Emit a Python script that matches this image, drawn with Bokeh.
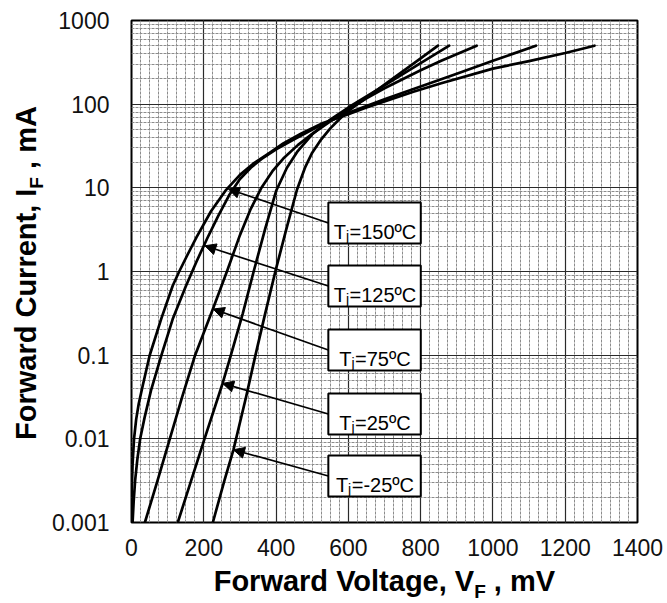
import math
from bokeh.plotting import figure
from bokeh.layouts import row, column
from bokeh.models import (Range1d, FixedTicker, SingleIntervalTicker, CustomJSTickFormatter,
                          Label, BoxAnnotation, Arrow, NormalHead, Div)
from bokeh.embed import file_html
from bokeh.resources import INLINE

# ---------------- data (forward voltage in mV, forward current in mA) ----------------
v_150 = [0, 1, 3, 7, 13, 20, 31, 50, 82, 114, 132, 155, 180, 220, 260, 300, 340, 380, 420, 470,
         530, 600, 650, 700, 780, 857, 1000, 1100, 1200, 1281]
i_150 = [0.001, 0.00251, 0.00501, 0.01, 0.0172, 0.0263, 0.0431, 0.0984, 0.27, 0.676, 1.0, 1.585,
         2.57, 5.25, 9.25, 14.3, 19.9, 25.9, 33.9, 44.7, 59.6, 75.9, 91.2, 108, 141, 178, 266,
         327, 409, 500]

v_125 = [3, 6, 10, 16, 24, 36, 54, 82, 114, 150, 180, 210, 240, 270, 300, 330, 360, 400, 450,
         520, 600, 700, 800, 900, 1000, 1119]
i_125 = [0.001, 0.00178, 0.00316, 0.00562, 0.01, 0.0178, 0.038, 0.0977, 0.27, 0.661, 1.318,
         2.512, 4.624, 8.128, 12.74, 17.38, 22.13, 28.84, 38.0, 55.0, 79.07, 114.3, 162.2,
         230.7, 329.6, 500]

v_75 = [37, 72, 106, 140, 176, 226, 264, 300, 330, 360, 390, 420, 460, 500, 550, 600, 650, 700,
        800, 857, 955]
i_75 = [0.001, 0.00316, 0.01, 0.0316, 0.1, 0.363, 1.0, 2.72, 5.62, 10.1, 15.8, 22.4, 32.4, 44.2,
        62.4, 86.1, 117.5, 154.9, 254.1, 331.1, 500]

v_25 = [128, 165, 202, 252, 275, 308, 338, 370, 400, 430, 460, 500, 550, 600, 650, 700, 800, 879]
i_25 = [0.001, 0.00316, 0.01, 0.0459, 0.1, 0.316, 1.0, 3.25, 9.16, 17.4, 27.5, 43.7, 65.3, 91.2,
        123.6, 167.9, 309, 500]

v_m25 = [225, 257, 282, 317, 343, 370, 398, 428, 458, 480, 500, 525, 550, 575, 600, 650, 700,
         800, 848]
i_m25 = [0.001, 0.00316, 0.00738, 0.0316, 0.1, 0.316, 1.0, 3.16, 9.55, 17.4, 26.3, 38.0, 51.3,
         66.1, 83.2, 119.4, 171.4, 353.2, 500]

series_v = [v_150, v_125, v_75, v_25, v_m25]
series_i = [i_150, i_125, i_75, i_25, i_m25]

temps = ["150", "125", "75", "25", "-25"]
arrow_tip_v = [268, 203, 226, 252, 282]
arrow_tip_i = [9.7, 2.03, 0.356, 0.046, 0.0074]

x_ticks = [0, 200, 400, 600, 800, 1000, 1200, 1400]
y_ticks = [0.001, 0.01, 0.1, 1, 10, 100, 1000]

x_title = ("Forward Voltage, V", "F", " , mV")
y_title = ("Forward Current, I", "F", " , mA")

# ---------------- layout helpers (page pixels -> data) ----------------
FL, FT, FW, FH = 128, 20, 509, 502   # plot frame in page pixels


def xd(px):
    return (px - FL) / FW * 1400.0


def yd(py):
    return 10 ** (3 - (py - FT) / FH * 6.0)


REG = {'T': .611, 'j': .222, '=': .584, '0': .556, '1': .556, '2': .556, '5': .556, '7': .556,
       'º': .365, 'C': .722, '-': .333}
BOLD = {'F': .611, 'o': .611, 'r': .389, 'w': .778, 'a': .556, 'd': .611, ' ': .278, 'C': .722,
        'u': .611, 'e': .556, 'n': .611, 't': .333, ',': .278, 'I': .278, 'm': .889, 'A': .722,
        'V': .667, 'l': .278, 'g': .611}


def tw(s, size, table):
    return sum(table[c] for c in s) * size


YDIV_W = 48
P_W, P_H = 667 - YDIV_W, 566
XDIV_H = 603 - P_H

p = figure(width=P_W, height=P_H, x_range=Range1d(0, 1400), y_range=Range1d(0.001, 1000),
           y_axis_type="log", output_backend="svg", toolbar_location=None,
           min_border_left=FL - YDIV_W, min_border_right=667 - (FL + FW), min_border_top=FT,
           min_border_bottom=P_H - FT - FH)
p.background_fill_color = "white"
p.border_fill_color = "white"
p.outline_line_color = "black"
p.outline_line_width = 2
p.outline_line_alpha = 1

xticker = SingleIntervalTicker(interval=200, num_minor_ticks=8)
minor_y = [m * 10.0 ** e for e in range(-3, 3) for m in range(2, 10)]
yticker = FixedTicker(ticks=y_ticks, minor_ticks=minor_y)
p.xaxis.ticker = xticker
p.yaxis.ticker = yticker
p.xgrid.ticker = xticker
p.ygrid.ticker = yticker
p.yaxis.formatter = CustomJSTickFormatter(code="return tick.toString();")

for ax in (p.xaxis[0], p.yaxis[0]):
    ax.axis_line_color = None
    ax.major_tick_line_color = None
    ax.minor_tick_line_color = None
    ax.major_tick_out = 0
    ax.major_tick_in = 0
    ax.major_label_text_font = "Liberation Sans"
    ax.major_label_text_font_size = "23px"
    ax.major_label_text_color = "#111111"
p.yaxis.major_label_standoff = 18
p.xaxis.major_label_standoff = 12

for g in (p.xgrid[0], p.ygrid[0]):
    g.grid_line_color = "#2a2a2a"
    g.grid_line_width = 1.2
    g.grid_line_alpha = 1
    g.minor_grid_line_color = "#8c8c8c"
    g.minor_grid_line_width = 1
    g.minor_grid_line_dash = "3 1"
    g.minor_grid_line_alpha = 1

for vs, cs in zip(series_v, series_i):
    p.line(vs, cs, line_color="black", line_width=2.7, line_join="round", line_cap="round")


def add_text(px, py, text, size, bold=False):
    p.add_layout(Label(x=xd(px), y=yd(py), text=text, text_font="Liberation Sans",
                       text_font_size=f"{size}px",
                       text_font_style="bold" if bold else "normal",
                       text_color="black", text_align="left", text_baseline="alphabetic"))


# boxes with arrows
BOX_L, BOX_R, BOX_H = 326, 419, 41
box_tops = [202, 265, 329, 393, 455]
for k, t in enumerate(temps):
    top = box_tops[k]
    p.add_layout(BoxAnnotation(left=xd(BOX_L), right=xd(BOX_R), top=yd(top), bottom=yd(top + BOX_H),
                               fill_color="white", fill_alpha=1, line_color="black",
                               line_width=2, line_alpha=1))
    mid = top + BOX_H / 2
    p.add_layout(Arrow(end=NormalHead(size=11, fill_color="black", line_color="black"),
                       x_start=xd(BOX_L), y_start=yd(mid), x_end=arrow_tip_v[k], y_end=arrow_tip_i[k],
                       line_color="black", line_width=1.7))
    rest = "=" + t + "ºC"
    w = .611 * 20 + .222 * 14 + tw(rest, 20, REG)
    x0 = (BOX_L + BOX_R) / 2 - w / 2
    base = top + 29.5
    add_text(x0, base, "T", 20)
    add_text(x0 + .611 * 20, base + 4, "j", 14)
    add_text(x0 + .611 * 20 + .222 * 14 + 0.5, base, rest, 20)

# ---------------- axis titles as HTML (subscripts) ----------------
FS, SS = 29, 19
FONT = "font-family:'Liberation Sans',Arial,sans-serif;font-weight:bold;line-height:29px;color:#000;white-space:nowrap;"

wx = tw(x_title[0], FS, BOLD) + .611 * SS + tw(x_title[2], FS, BOLD)
x_left = 385.5 - wx / 2 - YDIV_W
x_top = 591.5 - P_H - 24.5
xdiv_html = (
    f'<div style="position:relative;width:{P_W}px;height:{XDIV_H}px;">'
    f'<span style="position:absolute;left:{x_left:.1f}px;top:{x_top:.1f}px;font-size:{FS}px;{FONT}">'
    f'{x_title[0]}<span style="font-size:{SS}px;position:relative;top:6.5px;">{x_title[1]}</span>{x_title[2]}'
    f'</span></div>'
)

y_start = 440
y_html = (
    f'<div style="position:relative;width:{YDIV_W}px;height:603px;">'
    f'<span style="position:absolute;left:12.3px;top:{y_start}px;transform:rotate(-90deg);'
    f'transform-origin:0 0;font-size:{FS}px;{FONT}">'
    f'{y_title[0]}<span style="font-size:{SS}px;position:relative;top:7px;">{y_title[1]}</span>{y_title[2]}'
    f'</span></div>'
)

ydiv = Div(text=y_html, width=YDIV_W, height=603, margin=(0, 0, 0, 0))
xdiv = Div(text=xdiv_html, width=P_W, height=XDIV_H, margin=(0, 0, 0, 0))

layout = row(ydiv, column(p, xdiv, spacing=0), spacing=0)

open("out.html", "w").write(file_html(layout, INLINE))
